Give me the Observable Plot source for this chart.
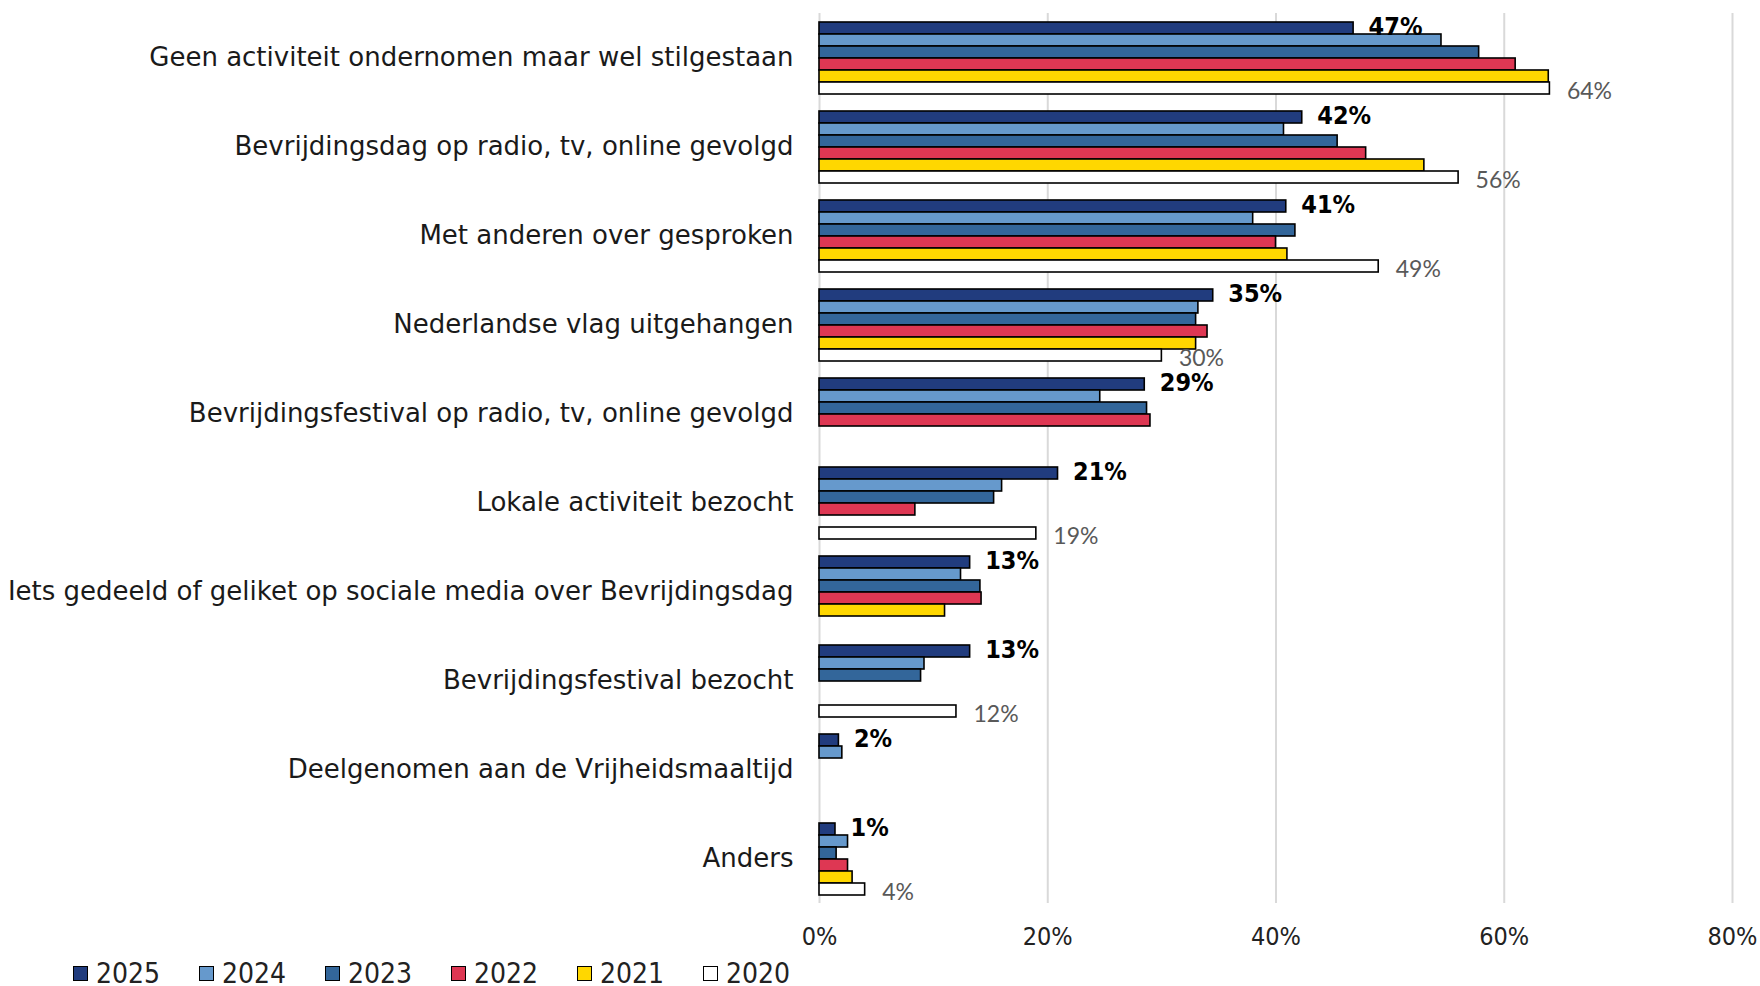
<!DOCTYPE html>
<html><head><meta charset="utf-8">
<script src="https://cdn.jsdelivr.net/npm/d3@7"></script>
<script src="https://cdn.jsdelivr.net/npm/@observablehq/plot@0.6"></script>
<style>
body{margin:0;background:#fff;}
#legend{display:flex;align-items:center;height:34px;margin-top:4px;padding-left:73px;font-family:'Liberation Sans Narrow','DejaVu Sans Condensed',sans-serif;font-size:28px;color:#222;}
#legend .item{display:flex;align-items:center;width:126px;}
#legend .sw{width:13px;height:13px;border:1.5px solid #000;margin-right:8px;}
</style></head><body><div id="chart"></div><div id="legend"></div>
<script>
const categories = [
  "Geen activiteit ondernomen maar wel stilgestaan",
  "Bevrijdingsdag op radio, tv, online gevolgd",
  "Met anderen over gesproken",
  "Nederlandse vlag uitgehangen",
  "Bevrijdingsfestival op radio, tv, online gevolgd",
  "Lokale activiteit bezocht",
  "Iets gedeeld of geliket op sociale media over Bevrijdingsdag",
  "Bevrijdingsfestival bezocht",
  "Deelgenomen aan de Vrijheidsmaaltijd",
  "Anders"
];
const years = ["2025","2024","2023","2022","2021","2020"];
const colors = ["#213c7e","#6699cc","#33669a","#de3753","#ffd700","#ffffff"];
const v2025 = [46.8, 42.3, 40.9, 34.5, 28.5, 20.9, 13.2, 13.2, 1.7, 1.4];
const v2024 = [54.5, 40.7, 38.0, 33.2, 24.6, 16.0, 12.4, 9.2, 2.0, 2.5];
const v2023 = [57.8, 45.4, 41.7, 33.0, 28.7, 15.3, 14.1, 8.9, null, 1.5];
const v2022 = [61.0, 47.9, 40.0, 34.0, 29.0, 8.4, 14.2, null, null, 2.5];
const v2021 = [63.9, 53.0, 41.0, 33.0, null, null, 11.0, null, null, 2.9];
const v2020 = [64.0, 56.0, 49.0, 30.0, null, 19.0, null, 12.0, null, 4.0];
const xTicks = [0, 20, 40, 60, 80];

const series = {"2025": v2025, "2024": v2024, "2023": v2023, "2022": v2022, "2021": v2021, "2020": v2020};
const rows = [];
for (const y of years) categories.forEach((c, i) => {
  const v = series[y][i];
  if (v != null) rows.push({category: c, year: y, value: v});
});

const condensed = "'Liberation Sans Narrow','DejaVu Sans Condensed',sans-serif";
const chart = Plot.plot({
  width: 1760, height: 952,
  marginLeft: 819, marginRight: 28, marginTop: 11, marginBottom: 48,
  x: {domain: [0, 80]},
  y: {domain: years, paddingInner: 0, paddingOuter: 0.43, axis: null},
  fy: {domain: categories, padding: 0, axis: null},
  color: {domain: years, range: colors},
  style: {background: "#fff"},
  marks: [
    Plot.ruleX(xTicks, {stroke: "#d9d9d9", strokeWidth: 2}),
    Plot.barX(rows, {x: "value", y: "year", fy: "category", fill: "year", stroke: "#000", strokeWidth: 1.6}),
    Plot.text(rows.filter(d => d.year === "2025"), {x: "value", y: "year", fy: "category", text: d => Math.round(d.value) + "%", textAnchor: "start", dx: 15, dy: -2, fontWeight: "bold", fontSize: 25, fontFamily: condensed, fill: "#000"}),
    Plot.text(rows.filter(d => d.year === "2020"), {x: "value", y: "year", fy: "category", text: d => Math.round(d.value) + "%", textAnchor: "start", dx: 17, dy: 3, fontSize: 23, fontFamily: "Lato, sans-serif", fill: "#595959"}),
    Plot.axisX(xTicks, {tickSize: 0, tickPadding: 24, tickFormat: d => d + "%", fontSize: 25, fontFamily: condensed, fill: "#222", label: null}),
    Plot.axisFy({anchor: "left", tickSize: 0, tickPadding: 26, fontSize: 26, fontFamily: "'DejaVu Sans', sans-serif", fill: "#1a1a1a", label: null})
  ]
});
document.getElementById("chart").appendChild(chart);

const legend = document.getElementById("legend");
years.forEach((y, i) => {
  const it = document.createElement("div");
  it.className = "item";
  const sw = document.createElement("div");
  sw.className = "sw";
  sw.style.background = colors[i];
  const t = document.createElement("span");
  t.textContent = y;
  it.appendChild(sw); it.appendChild(t);
  legend.appendChild(it);
});
</script>
</body></html>
